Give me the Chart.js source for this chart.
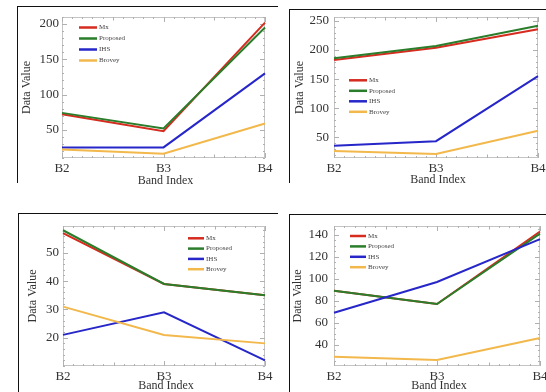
<!DOCTYPE html>
<html><head><meta charset="utf-8">
<script src="https://cdn.jsdelivr.net/npm/chart.js@4"></script>
<style>
body{margin:0;background:#fff;width:546px;height:392px;position:relative;overflow:hidden}
.f{position:absolute;border-top:1px solid #111;border-left:1px solid #111;box-sizing:border-box}
canvas{position:absolute}
</style></head>
<body>
<div class="f" style="left:17px;top:6px;width:261px;height:177px"></div>
<div class="f" style="left:289px;top:9px;width:257px;height:174px"></div>
<div class="f" style="left:18px;top:213px;width:260px;height:179px"></div>
<div class="f" style="left:289px;top:214px;width:257px;height:178px"></div>
<canvas id="c1" width="273" height="196" style="left:0;top:0"></canvas>
<canvas id="c2" width="273" height="196" style="left:273px;top:0"></canvas>
<canvas id="c3" width="273" height="196" style="left:0;top:196px"></canvas>
<canvas id="c4" width="273" height="196" style="left:273px;top:196px"></canvas>
<script>
// ---- data ----
const bands = ['B2', 'B3', 'B4'];
const seriesNames = ['Mx', 'Proposed', 'IHS', 'Brovey'];
const xTitle = 'Band Index';
const yTitle = 'Data Value';

const mx1 = [72, 48, 202];
const prop1 = [74, 52, 195];
const ihs1 = [25, 25, 130];
const brov1 = [22, 16, 59];
const yTicks1 = [50, 100, 150, 200];

const mx2 = [183, 204, 236];
const prop2 = [186, 207, 242];
const ihs2 = [35, 43, 155];
const brov2 = [26, 21, 61];
const yTicks2 = [50, 100, 150, 200, 250];

const mx3 = [57, 39, 35];
const prop3 = [58, 39, 35];
const ihs3 = [21, 29, 12];
const brov3 = [31, 21, 18];
const yTicks3 = [20, 30, 40, 50];

const mx4 = [89, 77, 143];
const prop4 = [89, 77, 141];
const ihs4 = [69, 97, 136];
const brov4 = [29, 26, 46];
const yTicks4 = [40, 60, 80, 100, 120, 140];

const colors = ['#d62b1f', '#2a7d2a', '#2626c9', '#f2b84b'];
const FONT = "'Liberation Serif', 'DejaVu Serif', serif";

const framePlugin = {
  id: 'frameTicks',
  beforeDatasetsDraw(chart, args, o) {
    const {ctx, chartArea: a, scales: {x, y}} = chart;
    ctx.save();
    ctx.strokeStyle = '#c4c4c4';
    ctx.lineWidth = 1;
    ctx.strokeRect(Math.round(a.left) + 0.5, Math.round(a.top) + 0.5, Math.round(a.width) - 1, Math.round(a.height) - 1);
    ctx.strokeStyle = '#b0b0b0';
    ctx.beginPath();
    for (let i = 0; i <= (bands.length - 1) * 10; i++) {
      const px = Math.round(x.getPixelForValue(i / 10)) + 0.5;
      const len = i % 10 === 0 ? 5 : (i % 5 === 0 ? 3.5 : 2);
      ctx.moveTo(px, a.bottom); ctx.lineTo(px, a.bottom - len);
      ctx.moveTo(px, a.top); ctx.lineTo(px, a.top + len);
    }
    const st = o.minor;
    for (let v = Math.ceil(y.min / st) * st; v <= y.max + 1e-9; v += st) {
      const py = Math.round(y.getPixelForValue(v)) + 0.5;
      const major = o.majors.some(m => Math.abs(m - v) < 1e-6);
      const len = major ? 5 : 2;
      ctx.moveTo(a.left, py); ctx.lineTo(a.left + len, py);
      ctx.moveTo(a.right, py); ctx.lineTo(a.right - len, py);
    }
    ctx.stroke();
    ctx.restore();
  },
  afterDatasetsDraw(chart, args, o) {
    const {ctx, chartArea: a} = chart;
    ctx.save();
    // legend
    ctx.font = '7px ' + FONT;
    ctx.textBaseline = 'middle';
    ctx.fillStyle = '#444';
    chart.data.datasets.forEach((ds, i) => {
      const yy = o.legY + i * o.legGap;
      ctx.strokeStyle = ds.borderColor;
      ctx.lineWidth = 2.5;
      ctx.beginPath(); ctx.moveTo(o.legX, yy); ctx.lineTo(o.legX + o.legLen, yy); ctx.stroke();
      ctx.fillText(ds.label, o.legX + o.legLen + 2, yy);
    });
    // axis titles
    ctx.fillStyle = '#333';
    ctx.font = '12px ' + FONT;
    ctx.textAlign = 'center';
    ctx.textBaseline = 'middle';
    ctx.fillText(xTitle, (a.left + a.right) / 2 + 2, a.bottom + o.xtOff);
    ctx.translate(a.left - o.ytOff, (a.top + a.bottom) / 2);
    ctx.rotate(-Math.PI / 2);
    ctx.fillText(yTitle, 0, 0);
    ctx.restore();
  }
};

function makeChart(id, series, yTicks, ymin, ymax, minor, lay) {
  const datasets = series.map((vals, i) => ({
    label: seriesNames[i],
    data: vals,
    borderColor: colors[i],
    backgroundColor: colors[i],
    borderWidth: 2,
    pointRadius: 0,
    tension: 0,
    fill: false,
    order: series.length - i
  }));
  return new Chart(document.getElementById(id), {
    type: 'line',
    data: {labels: bands, datasets},
    options: {
      responsive: false,
      animation: false,
      devicePixelRatio: 1,
      layout: {padding: {left: 0, right: lay.right, top: lay.top, bottom: 0}},
      plugins: {
        legend: {display: false},
        tooltip: {enabled: false},
        frameTicks: {minor, majors: yTicks, legX: lay.legX, legY: lay.legY, legGap: lay.legGap, legLen: lay.legLen, xtOff: lay.xtOff, ytOff: lay.ytOff}
      },
      scales: {
        x: {
          type: 'category',
          offset: false,
          grid: {display: false, drawTicks: false},
          border: {display: false},
          ticks: {font: {family: FONT, size: 13}, color: '#333', padding: 3, maxRotation: 0, autoSkip: false},
          afterFit(s) { s.height = lay.xh; s.paddingLeft = 0; s.paddingRight = 0; }
        },
        y: {
          type: 'linear',
          min: ymin, max: ymax,
          grid: {display: false, drawTicks: false},
          border: {display: false},
          ticks: {font: {family: FONT, size: 13}, color: '#333', padding: lay.yPad},
          afterBuildTicks(s) { s.ticks = yTicks.map(v => ({value: v})); },
          afterFit(s) { s.width = lay.yw; s.paddingTop = 0; s.paddingBottom = 0; }
        }
      }
    },
    plugins: [framePlugin]
  });
}

makeChart('c1', [mx1, prop1, ihs1, brov1], yTicks1, 10, 210, 10,
  {right: 8, top: 17, xh: 38, yw: 62, yPad: 3, legX: 79, legY: 27.5, legGap: 11, legLen: 18, xtOff: 23, ytOff: 35});
makeChart('c2', [mx2, prop2, ihs2, brov2], yTicks2, 14, 257, 10,
  {right: 8, top: 17, xh: 38, yw: 61, yPad: 5, legX: 76, legY: 80.3, legGap: 10.5, legLen: 18, xtOff: 22, ytOff: 34});
makeChart('c3', [mx3, prop3, ihs3, brov3], yTicks3, 10, 59.5, 2,
  {right: 8, top: 30, xh: 26, yw: 63, yPad: 4, legX: 188, legY: 42.3, legGap: 10.3, legLen: 16, xtOff: 20, ytOff: 30});
makeChart('c4', [mx4, prop4, ihs4, brov4], yTicks4, 20.5, 148, 5,
  {right: 6, top: 30, xh: 26, yw: 61, yPad: 6, legX: 77, legY: 40, legGap: 10.4, legLen: 16, xtOff: 20, ytOff: 36});
</script>
</body></html>
